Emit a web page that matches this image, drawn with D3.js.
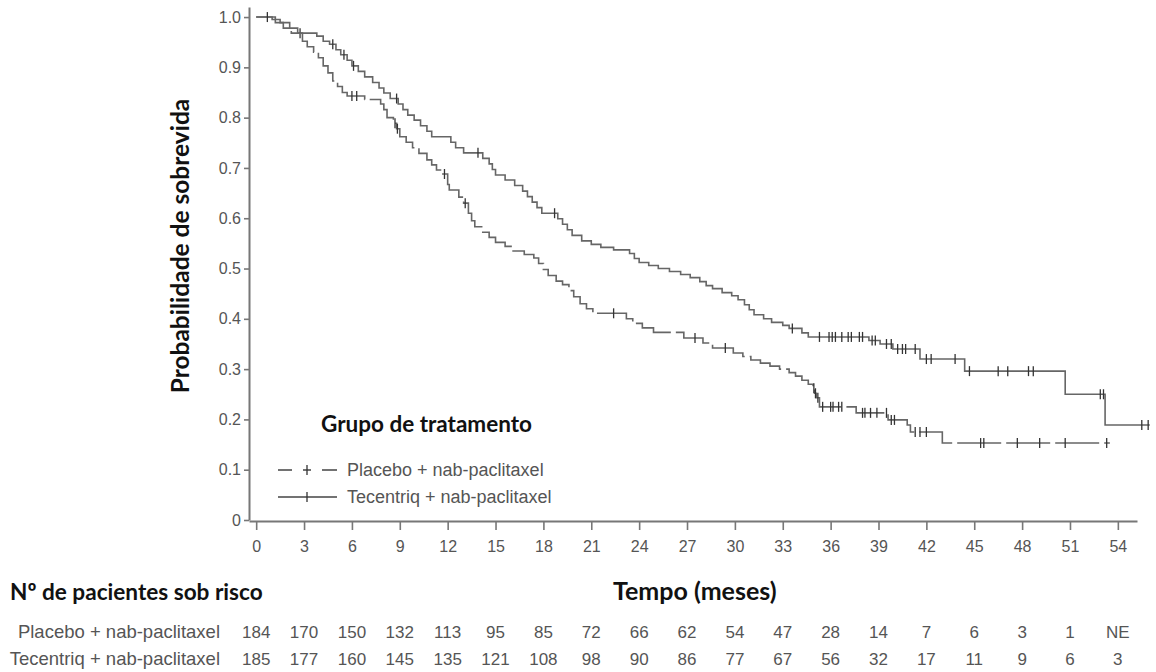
<!DOCTYPE html>
<html>
<head>
<meta charset="utf-8">
<script src="https://cdn.jsdelivr.net/npm/d3@7"></script>
<style>
  html, body { margin: 0; padding: 0; background: #fff; }
  svg { display: block; }
</style>
</head>
<body>
<svg id="chart" width="1156" height="672"></svg>
<script>
// Kaplan-Meier steps: [time in months, survival after the drop]
const tecentriqSteps = [
  [1.0, 0.995], [1.5, 0.989], [2.1, 0.978], [2.6, 0.968], [3.8, 0.962], [4.2, 0.952],
  [4.6, 0.946], [5.0, 0.935], [5.3, 0.925], [5.7, 0.914], [6.0, 0.903], [6.4, 0.892],
  [6.8, 0.881], [7.3, 0.870], [7.7, 0.859], [8.0, 0.849], [8.4, 0.838], [8.9, 0.827],
  [9.2, 0.816], [9.5, 0.805], [9.9, 0.795], [10.3, 0.784], [10.7, 0.773], [11.0, 0.762],
  [12.2, 0.751], [12.5, 0.740], [13.0, 0.730], [14.2, 0.719], [14.6, 0.708], [14.8, 0.697],
  [15.0, 0.686], [15.6, 0.676], [16.2, 0.665], [16.7, 0.654], [17.0, 0.643], [17.3, 0.632],
  [17.6, 0.621], [17.9, 0.610], [18.9, 0.599], [19.2, 0.588], [19.5, 0.577], [19.8, 0.566],
  [20.4, 0.555], [21.0, 0.548], [21.6, 0.542], [22.4, 0.537], [23.4, 0.530], [23.7, 0.520],
  [24.0, 0.512], [24.6, 0.506], [25.2, 0.500], [25.9, 0.494], [26.6, 0.488], [27.2, 0.482],
  [27.8, 0.474], [28.2, 0.466], [28.6, 0.460], [29.2, 0.452], [29.8, 0.446], [30.2, 0.438],
  [30.6, 0.428], [30.9, 0.418], [31.2, 0.408], [31.8, 0.400], [32.3, 0.393], [33.0, 0.387],
  [33.4, 0.381], [34.2, 0.372], [34.6, 0.364], [38.4, 0.357], [39.1, 0.350], [39.9, 0.340],
  [41.6, 0.320], [44.4, 0.296], [50.7, 0.250], [53.2, 0.189]
];
const tecentriqEnd = 56.0;
const tecentriqCensored = [
  0.7, 4.8, 5.5, 6.1, 8.8, 13.9, 18.7, 33.6, 35.3, 35.9, 36.1, 36.3, 36.7, 37.1, 37.3,
  37.8, 38.0, 38.6, 38.8, 39.5, 39.8, 40.2, 40.5, 40.7, 41.3, 42.0, 42.3, 43.8, 44.7,
  46.5, 47.1, 48.4, 48.7, 52.9, 53.1, 55.5, 55.9
];

const placeboSteps = [
  [1.2, 0.989], [1.7, 0.978], [2.2, 0.968], [2.9, 0.952], [3.2, 0.941], [3.6, 0.930],
  [3.9, 0.919], [4.2, 0.903], [4.5, 0.889], [4.8, 0.873], [5.1, 0.862], [5.4, 0.850],
  [5.7, 0.843], [6.8, 0.836], [7.8, 0.827], [8.0, 0.816], [8.2, 0.800], [8.6, 0.789],
  [8.8, 0.778], [9.0, 0.762], [9.4, 0.751], [9.8, 0.740], [10.2, 0.729], [10.7, 0.716],
  [11.0, 0.706], [11.3, 0.696], [11.7, 0.688], [12.0, 0.667], [12.1, 0.656], [12.7, 0.642],
  [13.0, 0.630], [13.3, 0.610], [13.5, 0.595], [13.7, 0.583], [14.2, 0.572], [14.6, 0.562],
  [15.0, 0.552], [15.6, 0.544], [16.1, 0.535], [16.8, 0.528], [17.4, 0.521], [17.7, 0.510],
  [18.0, 0.498], [18.3, 0.486], [18.8, 0.475], [19.2, 0.468], [19.6, 0.456], [19.9, 0.444],
  [20.3, 0.430], [20.7, 0.420], [21.1, 0.411], [23.2, 0.400], [23.6, 0.391], [24.2, 0.382],
  [24.9, 0.373], [26.8, 0.362], [28.0, 0.352], [28.6, 0.342], [29.9, 0.332], [30.5, 0.325],
  [31.0, 0.318], [31.6, 0.312], [32.2, 0.306], [32.8, 0.300], [33.4, 0.293], [33.8, 0.286],
  [34.2, 0.278], [34.6, 0.270], [34.9, 0.262], [35.0, 0.252], [35.1, 0.243], [35.3, 0.225],
  [37.6, 0.213], [39.6, 0.199], [40.8, 0.189], [41.0, 0.175], [43.0, 0.153]
];
const placeboEnd = 53.5;
const placeboCensored = [
  2.75, 6.0, 6.3, 8.7, 8.85, 11.8, 13.1, 22.4, 27.5, 29.4, 34.95, 35.05, 35.2, 35.5, 36.0,
  36.15, 36.5, 36.7, 38.0, 38.15, 38.5, 38.9, 39.5, 39.8, 40.0, 41.3, 41.6, 42.0, 45.4,
  45.6, 47.7, 49.1, 50.7, 53.3
];

// Axis ticks
const monthTicks = [0, 3, 6, 9, 12, 15, 18, 21, 24, 27, 30, 33, 36, 39, 42, 45, 48, 51, 54];
const probTicks = [0, 0.1, 0.2, 0.3, 0.4, 0.5, 0.6, 0.7, 0.8, 0.9, 1.0];

// Numbers at risk, one value per month tick
const placeboAtRisk = ["184", "170", "150", "132", "113", "95", "85", "72", "66", "62", "54", "47", "28", "14", "7", "6", "3", "1", "NE"];
const tecentriqAtRisk = ["185", "177", "160", "145", "135", "121", "108", "98", "90", "86", "77", "67", "56", "32", "17", "11", "9", "6", "3"];

const groupNames = ["Placebo + nab-paclitaxel", "Tecentriq + nab-paclitaxel"];

const svg = d3.select("#chart");
const lineColor = "#666";
const textGrey = "#555";
const sans = "'Liberation Sans', Arial, sans-serif";
const titleFont = "Lato, 'Open Sans', sans-serif";

const x = d3.scaleLinear().domain([-0.45, 55.2]).range([249, 1137]);
const y = d3.scaleLinear().domain([0, 1.02]).range([520, 7]);

// Axes
const xAxis = svg.append("g")
  .attr("transform", `translate(0,${y(0) + 1})`)
  .call(d3.axisBottom(x).tickValues(monthTicks).tickSize(9).tickSizeOuter(0).tickPadding(11).tickFormat(d3.format("d")));
const yAxis = svg.append("g")
  .attr("transform", `translate(${x(-0.45)},0)`)
  .call(d3.axisLeft(y).tickValues(probTicks).tickSize(5).tickSizeOuter(0).tickPadding(3)
    .tickFormat(d => d === 0 ? "0" : d3.format(".1f")(d)));

[xAxis, yAxis].forEach(g => {
  g.select(".domain").attr("stroke", "#777").attr("stroke-width", 2);
  g.selectAll(".tick line").attr("stroke", "#777").attr("stroke-width", 1.6);
  g.selectAll(".tick text").attr("fill", textGrey).style("font-family", sans).style("font-size", "16px");
});

// Survival curves
function stepPoints(steps, end) {
  const pts = [[0, 1]].concat(steps);
  pts.push([end, steps[steps.length - 1][1]]);
  return pts;
}
function survivalAt(steps, t) {
  let s = 1;
  for (const [st, sv] of steps) { if (st <= t) s = sv; }
  return s;
}
const line = d3.line().x(d => x(d[0])).y(d => y(d[1])).curve(d3.curveStepAfter);

const arms = [
  { steps: placeboSteps, end: placeboEnd, censored: placeboCensored, dash: "44,5" },
  { steps: tecentriqSteps, end: tecentriqEnd, censored: tecentriqCensored, dash: null }
];

arms.forEach(arm => {
  svg.append("path")
    .attr("d", line(stepPoints(arm.steps, arm.end)))
    .attr("fill", "none")
    .attr("stroke", lineColor)
    .attr("stroke-width", 1.6)
    .attr("stroke-dasharray", arm.dash);
  svg.append("g").selectAll("line")
    .data(arm.censored)
    .join("line")
    .attr("x1", d => x(d)).attr("x2", d => x(d))
    .attr("y1", d => y(survivalAt(arm.steps, d)) - 5)
    .attr("y2", d => y(survivalAt(arm.steps, d)) + 5)
    .attr("stroke", "#333")
    .attr("stroke-width", 1.3);
});

// Y axis title
svg.append("text")
  .attr("transform", "translate(189,246) rotate(-90)")
  .attr("text-anchor", "middle")
  .style("font-family", titleFont).style("font-weight", "bold").style("font-size", "24.5px")
  .attr("fill", "#111")
  .text("Probabilidade  de sobrevida");

// Legend
svg.append("text")
  .attr("x", 321).attr("y", 432)
  .style("font-family", titleFont).style("font-weight", "bold").style("font-size", "22.5px")
  .attr("fill", "#111")
  .text("Grupo de tratamento");

const legendRows = [
  { name: groupNames[0], dash: "14,11,8,11,15", yy: 470 },
  { name: groupNames[1], dash: null, yy: 497 }
];
legendRows.forEach(r => {
  svg.append("line")
    .attr("x1", 278).attr("x2", 337).attr("y1", r.yy).attr("y2", r.yy)
    .attr("stroke", "#444").attr("stroke-width", 1.6)
    .attr("stroke-dasharray", r.dash);
  svg.append("line")
    .attr("x1", 307).attr("x2", 307).attr("y1", r.yy - 5).attr("y2", r.yy + 5)
    .attr("stroke", "#333").attr("stroke-width", 1.3);
  svg.append("text")
    .attr("x", 347).attr("y", r.yy).attr("dy", "0.35em")
    .style("font-family", sans).style("font-size", "18px")
    .attr("fill", textGrey)
    .text(r.name);
});

// Axis title and risk table heading
svg.append("text")
  .attr("x", 613).attr("y", 600)
  .style("font-family", titleFont).style("font-weight", "bold").style("font-size", "25px")
  .attr("fill", "#111")
  .text("Tempo (meses)");
svg.append("text")
  .attr("x", 10).attr("y", 600)
  .style("font-family", titleFont).style("font-weight", "bold").style("font-size", "22.6px")
  .attr("fill", "#111")
  .text("Nº de pacientes sob risco");

// Numbers at risk
const tableRows = [
  { name: groupNames[0], values: placeboAtRisk, yy: 632 },
  { name: groupNames[1], values: tecentriqAtRisk, yy: 659 }
];
tableRows.forEach(r => {
  svg.append("text")
    .attr("x", 220).attr("y", r.yy).attr("dy", "0.35em")
    .attr("text-anchor", "end")
    .style("font-family", sans).style("font-size", "18.5px")
    .attr("fill", textGrey)
    .text(r.name);
  svg.append("g").selectAll("text")
    .data(r.values)
    .join("text")
    .attr("x", (d, i) => x(monthTicks[i]))
    .attr("y", r.yy).attr("dy", "0.35em")
    .attr("text-anchor", "middle")
    .style("font-family", sans).style("font-size", "17px")
    .attr("fill", textGrey)
    .text(d => d);
});
</script>
</body>
</html>
